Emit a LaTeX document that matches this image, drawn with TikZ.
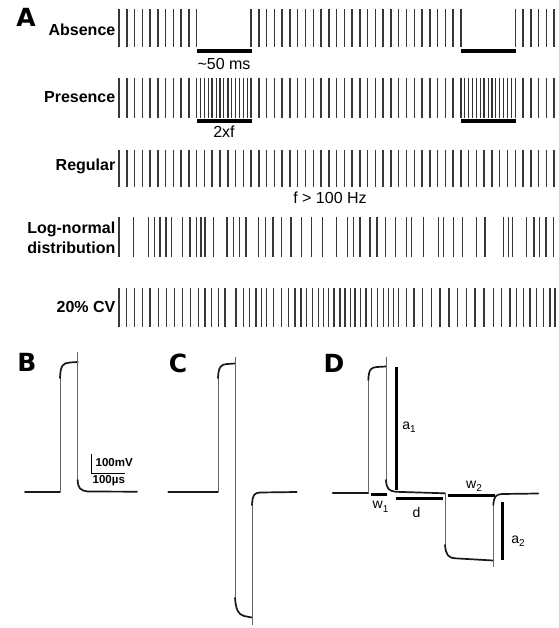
\documentclass[tikz,border=0pt]{standalone}
\usepackage{fontspec}
\setmainfont{Liberation Sans}
\newfontfamily\heavyfont{DejaVu Sans Bold}
\begin{document}
\begin{tikzpicture}[x=1pt,y=-1pt,
  spk/.style={line width=1.5pt, draw=black!78},
  bspk/.style={line width=1.2pt, draw=black!80},
  ebar/.style={line width=4pt, draw=black},
  abar/.style={line width=3pt, draw=black},
  trthin/.style={line width=0.8pt, draw=black!60},
  trthick/.style={line width=1.7pt, draw=black!90, line cap=round},
  rowlab/.style={font=\fontsize{16}{19}\selectfont\bfseries, anchor=east, inner sep=0pt, align=right},
  note/.style={font=\fontsize{16}{19}\selectfont, inner sep=0pt},
  dlab/.style={font=\fontsize{14}{16}\selectfont, inner sep=0pt},
  panel/.style={font=\fontsize{25}{27}\selectfont\heavyfont, inner sep=0pt},
  sclab/.style={font=\fontsize{11.5}{13}\selectfont\bfseries, inner sep=0pt, anchor=west}]
\useasboundingbox (0,0) rectangle (558,628);
\fill[white] (0,0) rectangle (558,628);

% ---------- panel A ----------
\node[panel] (pA) at (26,17.5) {A};

% Absence
\node[rowlab] (lab1) at (115.5,30) {Absence};
\foreach \k in {0,...,10} \draw[spk] ({119+7.77*\k},9) -- ({119+7.77*\k},47);
\foreach \k in {17,...,44} \draw[spk] ({119+7.77*\k},9) -- ({119+7.77*\k},47);
\foreach \k in {51,...,56} \draw[spk] ({119+7.77*\k},9) -- ({119+7.77*\k},47);
\coordinate (a1l) at (197,51.5); \coordinate (a1r) at (251.5,51.5);
\coordinate (a2l) at (461,51.5); \coordinate (a2r) at (516,51.5);
\draw[ebar] (a1l) -- (a1r);
\draw[ebar] (a2l) -- (a2r);
\node[note] (t50) at (224,63.5) {\textasciitilde 50 ms};

% Presence
\node[rowlab] (lab2) at (115.5,97) {Presence};
\foreach \k in {0,...,56} \draw[spk] ({119+7.77*\k},78) -- ({119+7.77*\k},118);
\foreach \j in {1,...,13} \draw[bspk] ({196.7+3.885*\j},78) -- ({196.7+3.885*\j},118);
\foreach \j in {1,...,13} \draw[bspk] ({460.9+3.885*\j},78) -- ({460.9+3.885*\j},118);
\coordinate (p1l) at (197,121.5); \coordinate (p1r) at (251.5,121.5);
\coordinate (p2l) at (461,121.5); \coordinate (p2r) at (516,121.5);
\draw[ebar] (p1l) -- (p1r);
\draw[ebar] (p2l) -- (p2r);
\node[note] (t2xf) at (224,132) {2xf};

% Regular
\node[rowlab] (lab3) at (115.5,166.5) {Regular};
\foreach \k in {0,...,56} \draw[spk] ({119+7.77*\k},150) -- ({119+7.77*\k},187);
\node[note] (tf) at (330,197.5) {f > 100 Hz};

% Log-normal
\node[rowlab, font=\fontsize{16}{20}\selectfont\bfseries] (lab4) at (115.5,238) {Log-normal\\distribution};
\foreach \x in {119,133.3,148.3,154.5,160,166,171.7,182.7,190,196.7,201.2,205,213.3,227.2,233.3,239.7,246,258.3,265.5,273,281.7,291,301.3,311.3,322.7,336.7,347.5,353.5,360,370,377,385.3,395.7,406.7,411.7,423.3,438.3,443.3,453.3,462.7,476.7,485,503.3,508.3,512.7,526.7,534,539.3,546,553.3}
  \draw[spk] (\x,217) -- (\x,257);

% 20% CV
\node[rowlab] (lab5) at (115.5,307) {20\% CV};
\foreach \x in {119,126.7,134.3,142.3,150,158.3,166.7,174.3,182.7,190.7,198.3,205,211.7,218.3,225,236,243.3,249.3,256,261.7,266.7,273.5,281.7,288.3,295,301,306.7,312.7,318.3,323.3,328.3,334,340,345,350.7,355,360.7,366,371.7,377.3,383.3,388.3,393.3,398.3,406.7,414,422.7,431.7,440,449,457.7,466.7,475,484,493.3,501.7,510,516.7,523.3,530,536.7,543.3,550,555}
  \draw[spk] (\x,288) -- (\x,327);

% ---------- panel B ----------
\node[panel] (pB) at (27,362.5) {B};
\draw[trthick] (25,491.7) -- (60,491.7);
\draw[trthin] (60,491.7) -- (60,378);
\draw[trthick] (60,378) .. controls (60.5,365) and (63,363) .. (70,362.5) -- (77.7,362);
\draw[trthin] (77.7,351.7) -- (77.7,480);
\draw[trthick] (77.7,480) .. controls (78,488) and (80,490.5) .. (88,491.5) -- (137,491.7);
% scale bar
\coordinate (sc0) at (91.7,473.3);
\coordinate (scv) at (91.7,454);
\coordinate (sch) at (125,473.3);
\draw[line width=1pt] (scv) -- (sc0) -- (sch);
\node[sclab] (tmv) at (95.5,463) {100mV};
\node[sclab] (tus) at (92.5,480.5) {100µs};

% ---------- panel C ----------
\node[panel] (pC) at (178,363.5) {C};
\draw[trthick] (168.3,491.7) -- (218,491.7);
\draw[trthin] (218,491.7) -- (218,378);
\draw[trthick] (218,378) .. controls (218.5,366.5) and (221,364.5) .. (227,364) -- (235,363.5);
\draw[trthin] (235,356.7) -- (235,598);
\draw[trthick] (235,598) .. controls (236,610) and (238,614) .. (244,616) -- (252,617.5);
\draw[trthin] (252,625) -- (252,505);
\draw[trthick] (252,505) .. controls (252.5,495) and (254,493) .. (260,492.5) -- (296.7,492);

% ---------- panel D ----------
\node[panel] (pD) at (334,363.5) {D};
\draw[trthick] (332.7,492.7) -- (368.3,492.7);
\draw[trthin] (368.3,492.7) -- (368.3,380);
\draw[trthick] (368.3,380) .. controls (368.8,369) and (371,367.5) .. (377,367) -- (386,366.5);
\draw[trthin] (386,356.7) -- (386,480);
\draw[trthick] (386,480) .. controls (386.5,489) and (389,491) .. (396,491.8) -- (445,493.3);
\draw[trthin] (445,493.3) -- (445,545);
\draw[trthick] (445,545) .. controls (446,555) and (448,557.5) .. (455,558.3) -- (493.3,560.5);
\draw[trthin] (493.3,566.7) -- (493.3,505);
\draw[trthick] (493.3,505) .. controls (494,496) and (496,494.5) .. (502,494) -- (538.3,493.5);
% annotations
\coordinate (a1t) at (396.7,366.7); \coordinate (a1b) at (396.7,490);
\draw[abar] (a1t) -- (a1b);
\node[dlab] (ta1) at (409,427) {a\raisebox{-3.5pt}{\fontsize{10}{10}\selectfont 1}};
\coordinate (w1l) at (371,494); \coordinate (w1r) at (387.3,494);
\draw[abar] (w1l) -- (w1r);
\node[dlab] (tw1) at (380.5,507) {w\raisebox{-3.5pt}{\fontsize{10}{10}\selectfont 1}};
\coordinate (dl) at (396,498); \coordinate (dr) at (442.7,498);
\draw[abar] (dl) -- (dr);
\node[dlab] (td) at (416.5,512) {d};
\coordinate (w2l) at (447.7,495); \coordinate (w2r) at (495,495);
\draw[abar] (w2l) -- (w2r);
\node[dlab] (tw2) at (474,486.5) {w\raisebox{-3.5pt}{\fontsize{10}{10}\selectfont 2}};
\coordinate (a2t) at (502.3,501.7); \coordinate (a2b) at (502.3,560);
\draw[abar] (a2t) -- (a2b);
\node[dlab] (ta2) at (518,541) {a\raisebox{-3.5pt}{\fontsize{10}{10}\selectfont 2}};
\end{tikzpicture}
\end{document}
